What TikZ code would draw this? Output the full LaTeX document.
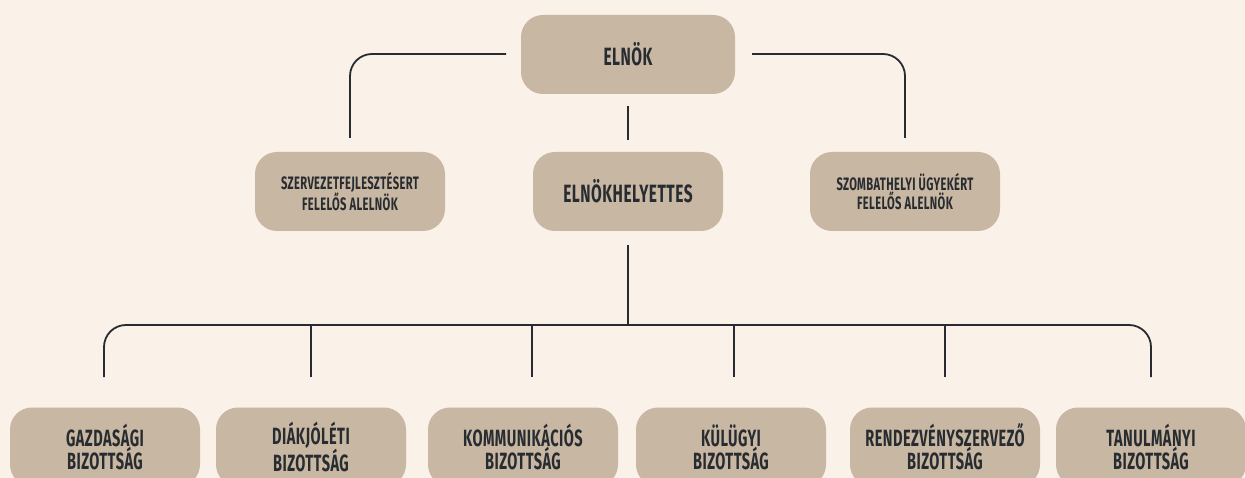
\documentclass[tikz,border=0pt]{standalone}
\usepackage{fontspec}
\setmainfont{Fira Sans}[FakeStretch=0.62,LetterSpace=2]
\definecolor{bg}{RGB}{250,241,232}
\definecolor{boxc}{RGB}{200,184,163}
\definecolor{ink}{RGB}{40,44,48}
\begin{document}
\begin{tikzpicture}[x=1pt,y=-1pt,
  box/.style={fill=boxc,rounded corners=22pt,minimum width=190pt,minimum height=79pt,
    inner sep=0pt,align=center,text=ink},
  big/.style={box,font=\bfseries\fontsize{25}{26}\selectfont},
  small/.style={box,font=\bfseries\fontsize{18}{19}\selectfont},
  bot/.style={box,font=\bfseries\fontsize{23.5}{23}\selectfont},
  link/.style={draw=ink,line width=1.8pt,rounded corners=22pt}]
\fill[bg] (0,0) rectangle (1245,478);
\useasboundingbox (0,0) rectangle (1245,478);
\clip (0,0) rectangle (1245,478);
% top
\node[big,minimum width=214pt] (elnok) at (628,54.5) {ELNÖK};
\node[small] (szerv) at (350,191.5) {SZERVEZETFEJLESZTÉSERT\\FELELŐS ALELNÖK};
\node[big] (helyettes) at (628,191.5) {ELNÖKHELYETTES};
\node[small] (szomb) at (905,191.5) {SZOMBATHELYI ÜGYEKÉRT\\FELELŐS ALELNÖK};
% bottom
\node[bot] (gazd) at (105,447) {GAZDASÁGI\\BIZOTTSÁG};
\node[bot] (diak) at (311,447) {DIÁKJÓLÉTI\\BIZOTTSÁG};
\node[bot] (komm) at (523,447) {KOMMUNIKÁCIÓS\\BIZOTTSÁG};
\node[bot] (kulu) at (731,447) {KÜLÜGYI\\BIZOTTSÁG};
\node[bot] (rend) at (945,447) {RENDEZVÉNYSZERVEZŐ\\BIZOTTSÁG};
\node[bot] (tanu) at (1151,447) {TANULMÁNYI\\BIZOTTSÁG};
% connector coordinates
\coordinate (eL) at (506,54);
\coordinate (eR) at (752,54);
\coordinate (sL) at (350,138);
\coordinate (sR) at (905,138);
\coordinate (m1) at (628,106);
\coordinate (m2) at (628,140);
\coordinate (h1) at (628,245);
\coordinate (h2) at (628,325);
\coordinate (d1) at (104,377);
\coordinate (d2) at (311,377);
\coordinate (d3) at (532,377);
\coordinate (d4) at (734,377);
\coordinate (d5) at (945,377);
\coordinate (d6) at (1151,377);
\draw[link] (eL) -| (sL);
\draw[link] (eR) -| (sR);
\draw[link] (m1) -- (m2);
\draw[link] (h1) -- (h2);
\draw[link] (d1) |- (h2) -| (d6);
\foreach \d in {d2,d3,d4,d5}{\draw[link] (\d) -- (\d |- h2);}
\end{tikzpicture}
\end{document}
